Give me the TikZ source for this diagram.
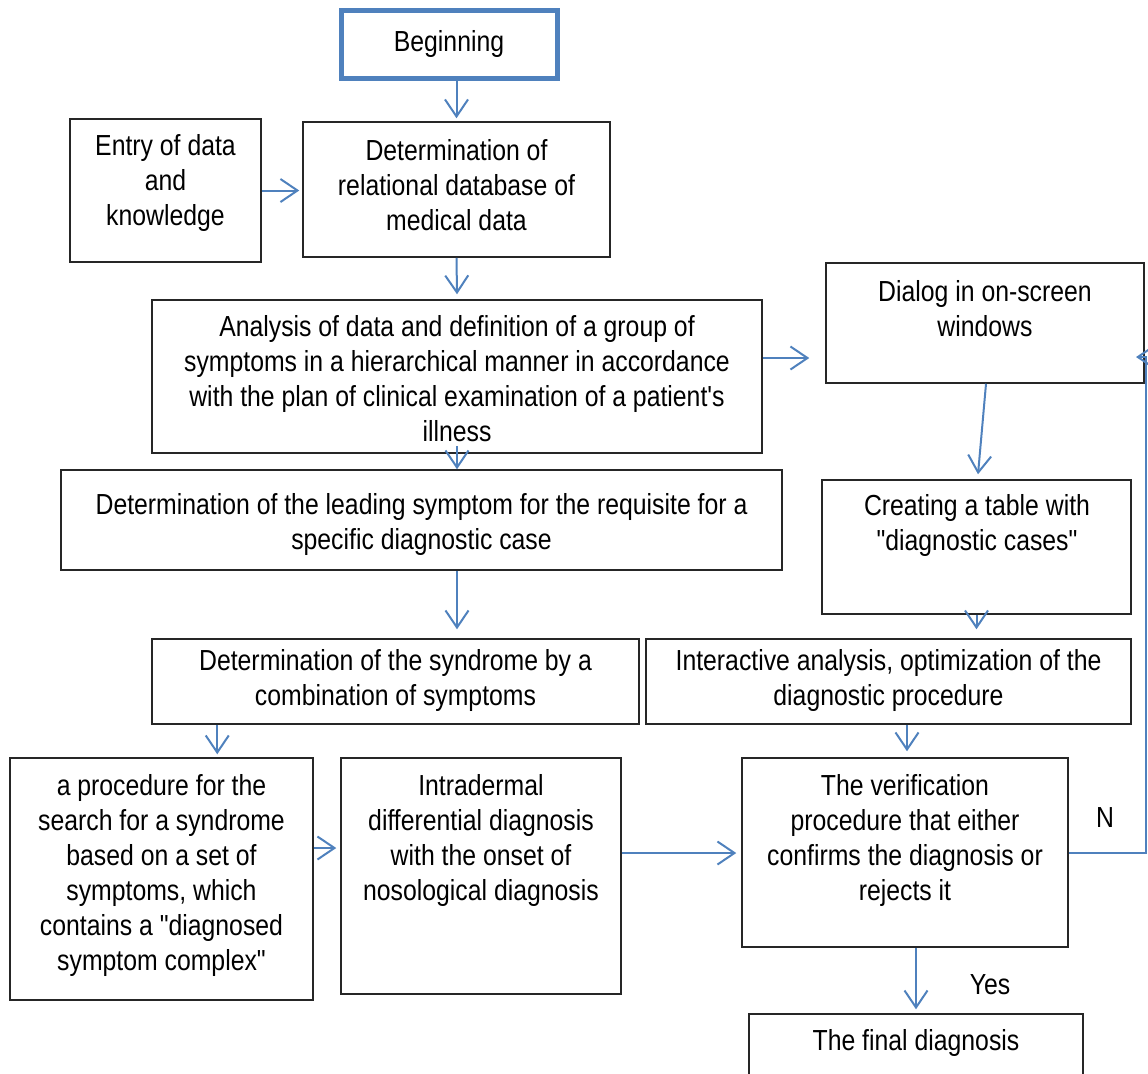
\documentclass[tikz,border=0pt]{standalone}
\usepackage{fontspec}
\setmainfont{Liberation Sans}[FakeStretch=0.855, Ligatures=TeXOff]
\usetikzlibrary{arrows.meta}
\definecolor{flowblue}{RGB}{79,129,189}
\tikzset{
  proc_box/.style={rectangle, draw=black!85, line width=0.3mm, inner sep=0pt},
  start_box/.style={rectangle, draw=flowblue, line width=1mm, inner sep=0pt},
  proc_text/.style={align=center, inner sep=0pt, font=\fontsize{16.5}{19.9}\selectfont},
  flow_arrow/.style={flowblue, line width=0.4mm, -{Straight Barb[length=3.4mm, width=4.6mm]}}
}

\begin{document}
\begin{tikzpicture}[x=0.2mm, y=-0.2mm]
    \useasboundingbox (0,0) rectangle (1148,1073);

    % Cajas superiores
    \node[start_box, minimum width=4.32cm, minimum height=1.36cm] (begin) at (449,44) {};
    \node[proc_text] (begin-t) at (449,44) {Beginning};

    \node[proc_box, minimum width=3.82cm, minimum height=2.86cm] (entry) at (165.5,190.5) {};
    \node[proc_text] (entry-t) at (165.5,183) {Entry of data\\and\\knowledge};

    \node[proc_box, minimum width=6.14cm, minimum height=2.70cm] (reldb) at (456.5,189.5) {};
    \node[proc_text] (reldb-t) at (456.5,185) {Determination of\\relational database of\\medical data};

    \node[proc_box, minimum width=12.2cm, minimum height=3.06cm] (analysis) at (457,376.5) {};
    \node[proc_text] (analysis-t) at (457,378.5) {Analysis of data and definition of a group of\\symptoms in a hierarchical manner in accordance\\with the plan of clinical examination of a patient's\\illness};

    \node[proc_box, minimum width=6.36cm, minimum height=2.40cm] (dialog) at (985,323) {};
    \node[proc_text] (dialog-t) at (985,308.5) {Dialog in on-screen\\windows};

    % Cajas centrales
    \node[proc_box, minimum width=14.42cm, minimum height=2.0cm] (leading) at (421.5,520) {};
    \node[proc_text] (leading-t) at (421.5,524) {Determination of the leading symptom for the requisite for a\\specific diagnostic case};

    \node[proc_box, minimum width=6.18cm, minimum height=2.68cm] (creating) at (976.5,547) {};
    \node[proc_text] (creating-t) at (977,525) {Creating a table with\\"diagnostic cases"};

    \node[proc_box, minimum width=9.74cm, minimum height=1.70cm] (syndrome) at (395.5,681.5) {};
    \node[proc_text] (syndrome-t) at (395.5,680.5) {Determination of the syndrome by a\\combination of symptoms};

    \node[proc_box, minimum width=9.70cm, minimum height=1.70cm] (interactive) at (888.5,681.5) {};
    \node[proc_text] (interactive-t) at (888.5,680.5) {Interactive analysis, optimization of the\\diagnostic procedure};

    % Cajas inferiores
    \node[proc_box, minimum width=6.06cm, minimum height=4.84cm] (procedure) at (161.5,879) {};
    \node[proc_text] (procedure-t) at (161.5,875.5) {a procedure for the\\search for a syndrome\\based on a set of\\symptoms, which\\contains a "diagnosed\\symptom complex"};

    \node[proc_box, minimum width=5.60cm, minimum height=4.72cm] (intradermal) at (481,876) {};
    \node[proc_text] (intradermal-t) at (481,840.5) {Intradermal\\differential diagnosis\\with the onset of\\nosological diagnosis};

    \node[proc_box, minimum width=6.52cm, minimum height=3.78cm] (verification) at (905,852.5) {};
    \node[proc_text] (verification-t) at (905,840.5) {The verification\\procedure that either\\confirms the diagnosis or\\rejects it};

    \node[proc_box, minimum width=6.68cm, minimum height=1.28cm] (final) at (916,1046) {};
    \node[proc_text] (final-t) at (916,1043) {The final diagnosis};

    % Etiquetas
    \node[proc_text] (nlabel) at (1105,818) {N};
    \node[proc_text] (yeslabel) at (990,985) {Yes};

    % Flechas
    \draw[flow_arrow] (begin.south -| reldb.north) -- ([yshift=0.6mm]reldb.north);
    \draw[flow_arrow] (entry.east) -- ([xshift=-0.6mm]entry.east -| reldb.west);
    \draw[flow_arrow] (reldb.south) -- ([yshift=1mm]analysis.north);
    \draw[flow_arrow, shorten >=3.2mm] ([yshift=3.7mm]analysis.east) -- ([yshift=3.7mm]analysis.east -| dialog.west);
    \draw[flow_arrow] ([xshift=0.2mm]dialog.south) -- ([xshift=0.3mm, yshift=1mm]creating.north);
    \draw[flow_arrow] ([yshift=1.6mm]analysis.south) -- (analysis.south |- leading.north);
    \draw[flow_arrow] (leading.south -| analysis.south) -- ([yshift=1.8mm]syndrome.north -| analysis.south);
    \draw[flow_arrow] (creating.south) -- ([yshift=1.8mm]creating.south |- interactive.north);
    \draw[flow_arrow] ([xshift=13.2mm]syndrome.south west) -- ([xshift=13.2mm, yshift=0.6mm]syndrome.south west |- procedure.north);
    \draw[flow_arrow] ([yshift=6.2mm]procedure.east) -- ([yshift=6.2mm, xshift=-0.8mm]procedure.east -| intradermal.west);
    \draw[flow_arrow] ([yshift=4.6mm]intradermal.east) -- ([yshift=4.6mm, xshift=-1mm]intradermal.east -| verification.west);
    \draw[flow_arrow] ([xshift=0.4mm]verification.north |- interactive.south) -- ([xshift=0.4mm, yshift=1.2mm]verification.north);
    \draw[flow_arrow] (final.north |- verification.south) -- ([yshift=0.8mm]final.north);

    % Bucle N
    \coordinate (loop) at (1146,357);
    \draw[flow_arrow] (verification.east) -| (loop) -- ([xshift=-2mm]loop);
\end{tikzpicture}
\end{document}
